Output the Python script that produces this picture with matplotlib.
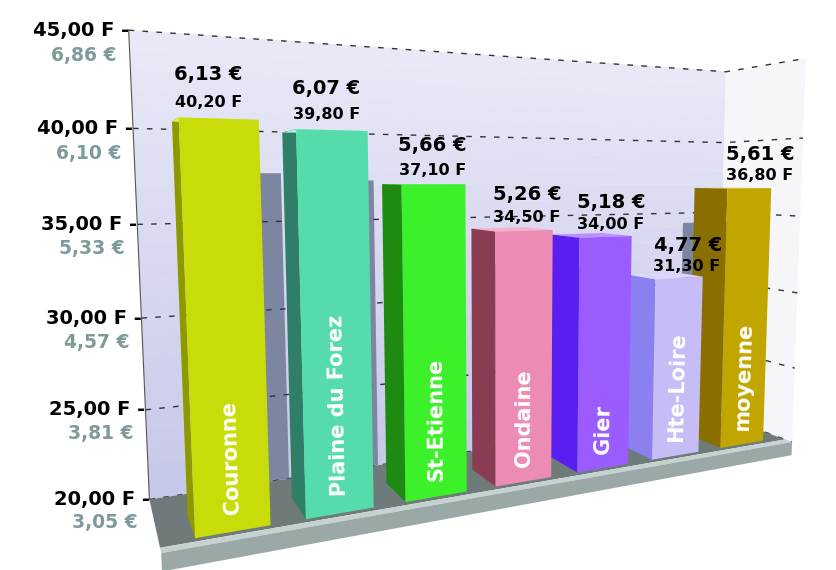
import numpy as np
import matplotlib.pyplot as plt
from matplotlib.colors import to_rgb
from mpl_toolkits.mplot3d.art3d import Poly3DCollection
from mpl_toolkits.mplot3d import proj3d

# données (prix en francs et en euros)
categories = ['Couronne', 'Plaine du Forez', 'St-Etienne', 'Ondaine', 'Gier', 'Hte-Loire', 'moyenne']
prix_franc = [40.20, 39.80, 37.10, 34.50, 34.00, 31.30, 36.80]
prix_euro = [6.13, 6.07, 5.66, 5.26, 5.18, 4.77, 5.61]
ticks_franc = [20, 25, 30, 35, 40, 45]
ticks_euro = [3.05, 3.81, 4.57, 5.33, 6.10, 6.86]

couleurs_face = ['#c8dc0a', '#55dcaa', '#3cf02a', '#ec8cb4', '#9a5cff', '#c6bcf6', '#c2a600']
couleurs_cote = ['#8c9a00', '#2f7f68', '#1f8a12', '#8a3c52', '#5a1ef0', '#8a80f0', '#8a6e00']
couleurs_haut = ['#e0f040', '#a8f0d8', '#80ff70', '#f4b0cc', '#b890ff', '#ddd6fb', '#d8c030']


def virgule(v, suffixe):
    return f"{v:.2f}".replace('.', ',') + suffixe


fig = plt.figure(figsize=(8.37, 5.70), dpi=100)
ax = fig.add_axes([0.09, -0.05, 1.0, 1.12], projection='3d')
ax.computed_zorder = False


def poly(faces, zorder, **kw):
    pc = Poly3DCollection(faces, edgecolor='none', zorder=zorder, **kw)
    pc.set_clip_on(False)
    ax.add_collection3d(pc)


x0, x1 = -0.3, 6.95
y_fond = 1.4
z_sol = 20
z_haut = 45

# mur du fond en dégradé
bas, haut = np.array(to_rgb('#c6c8e8')), np.array(to_rgb('#e8e8f7'))
niveaux = np.linspace(z_sol, z_haut, 26)
for k in range(len(niveaux) - 1):
    f = k / (len(niveaux) - 2)
    za, zb = niveaux[k], niveaux[k + 1] + 0.02
    poly([[(x0, y_fond, za), (x1, y_fond, za), (x1, y_fond, zb), (x0, y_fond, zb)]], 1,
         facecolor=bas * (1 - f) + haut * f)
poly([[(x1, 0, z_sol), (x1, y_fond, z_sol), (x1, y_fond, z_haut), (x1, 0, z_haut)]], 1,
     facecolor='#f6f6fa')

# ombres sur le mur du fond
for i, v in enumerate(prix_franc):
    poly([[(i + 0.3, y_fond, z_sol), (i + 1.1, y_fond, z_sol),
           (i + 1.1, y_fond, v - 2.5), (i + 0.3, y_fond, v - 2.5)]], 2, facecolor='#7c86a0')

# quadrillage pointillé
for t in ticks_franc:
    ln, = ax.plot([x0, x1, x1], [y_fond, y_fond, 0], [t, t, t], ls=(0, (4, 6)),
                  color='#333333', lw=1, zorder=3)
    ln.set_clip_on(False)
ln, = ax.plot([x0, x0], [y_fond, y_fond], [z_sol, z_haut], color='#555555', lw=0.8, zorder=3)
ln.set_clip_on(False)

# socle
poly([[(x0, 0.12, z_sol), (x1, 0.12, z_sol), (x1, y_fond, z_sol), (x0, y_fond, z_sol)]], 4,
     facecolor='#6f7a7a')
poly([[(x0, 0, z_sol), (x1, 0, z_sol), (x1, 0.12, z_sol), (x0, 0.12, z_sol)]], 4,
     facecolor='#c6d2d2')
poly([[(x0, 0, z_sol - 0.9), (x1, 0, z_sol - 0.9), (x1, 0, z_sol), (x0, 0, z_sol)]], 4,
     facecolor='#9aa8a8')

# barres (de la plus lointaine à la plus proche)
largeur, profondeur, y_barre = 0.67, 0.6, 0.2
for i in reversed(range(len(categories))):
    v = prix_franc[i]
    xa, xb = i, i + largeur
    ya, yb = y_barre, y_barre + profondeur
    faces = [
        [(xa, ya, z_sol), (xb, ya, z_sol), (xb, ya, v), (xa, ya, v)],
        [(xa, ya, z_sol), (xa, yb, z_sol), (xa, yb, v), (xa, ya, v)],
        [(xa, ya, v), (xb, ya, v), (xb, yb, v), (xa, yb, v)],
    ]
    poly(faces, 10 + (len(categories) - i),
         facecolors=[couleurs_face[i], couleurs_cote[i], couleurs_haut[i]])

ax.set_xlim(x0, x1)
ax.set_ylim(0, y_fond)
ax.set_zlim(18.5, 45.5)
ax.set_box_aspect((7.25, 1.4, 5.0), zoom=1.24)
ax.set_proj_type('persp', focal_length=0.25)
ax.view_init(elev=6, azim=-116)
ax.set_axis_off()

# textes placés après projection
fig.canvas.draw()
M = ax.get_proj()


def ecran(x, y, z):
    px, py, _ = proj3d.proj_transform(x, y, z, M)
    return px, py


def texte(x, y, z, s, **kw):
    px, py = ecran(x, y, z)
    ax.text2D(px, py, s, transform=ax.transData, zorder=40, **kw)


for i, nom in enumerate(categories):
    v = prix_franc[i]
    xc = i + largeur / 2
    a = ax.transData.transform(ecran(xc, y_barre, 21))
    b = ax.transData.transform(ecran(xc, y_barre, 30))
    angle = np.degrees(np.arctan2(b[1] - a[1], b[0] - a[0]))
    texte(xc, y_barre, 20.9, nom, color='white', fontsize=15, fontweight='bold',
          rotation=angle, rotation_mode='anchor', ha='left', va='center')
    texte(i - 0.03, y_barre, v + 1.5, virgule(prix_euro[i], ' €'), color='black',
          fontsize=14, fontweight='bold', ha='left', va='bottom')
    texte(i - 0.03, y_barre, v + 0.35, virgule(prix_franc[i], ' F'), color='black',
          fontsize=11.5, fontweight='bold', ha='left', va='bottom')

# graduations F / €
for t, e in zip(ticks_franc, ticks_euro):
    texte(x0, y_fond, t, virgule(t, ' F') + ' -', color='black', fontsize=14,
          fontweight='bold', ha='right', va='center')
    texte(x0, y_fond, t - 1.3, virgule(e, ' €') + '  ', color='#7f9a9a', fontsize=13.5,
          fontweight='bold', ha='right', va='center')

fig.savefig('out.png', dpi=100)
